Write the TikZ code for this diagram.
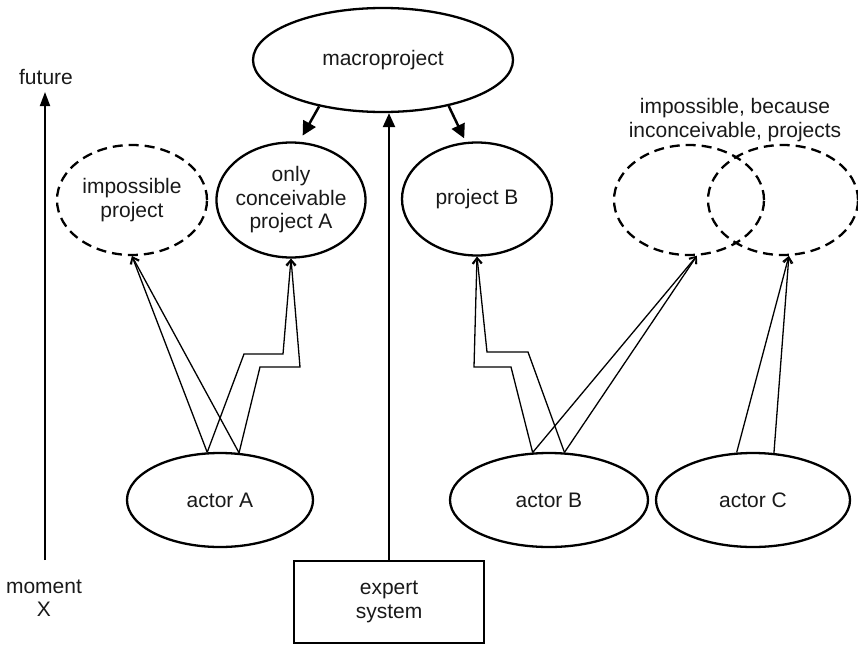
\documentclass[tikz,border=0pt]{standalone}
\usepackage{fontspec}
\setmainfont{Liberation Sans}
\usetikzlibrary{arrows.meta,shapes.geometric,calc}
\begin{document}
\begin{tikzpicture}[x=1pt,y=-1pt,
  every node/.style={font=\fontsize{21}{23.5}\selectfont, align=center, inner sep=0pt, text=black!90},
  ell/.style={ellipse, draw, line width=2.3pt, inner sep=-4pt},
  dell/.style={ell, dash pattern=on 10pt off 6pt},
  boxnode/.style={rectangle, draw, line width=2.3pt},
  thin/.style={line width=1.3pt, -{Straight Barb[length=6pt,width=9pt]}, line join=miter},
  bigarrow/.style={line width=2.5pt, -{Triangle[length=14pt,width=14pt]}},
  uparrow/.style={line width=2.2pt, -{Triangle[length=14pt,width=12pt]}},
  timearrow/.style={line width=1.8pt, -{Triangle[length=14pt,width=10pt]}}
]
\useasboundingbox (0,0) rectangle (858,645);

% nodes
\node[ell, minimum width=260pt, minimum height=104pt] (macro) at (383,60) {macroproject};
\node[dell, minimum width=150pt, minimum height=110pt] (imp) at (132,200) {impossible\\project};
\node[ell, minimum width=149pt, minimum height=115pt] (onlyA) at (291,200) {only\\conceivable\\project A};
\node[ell, minimum width=150pt, minimum height=113pt] (prB) at (477,199) {project B};
\node[dell, minimum width=150pt, minimum height=110pt] (dsh1) at (689,200) {};
\node[dell, minimum width=150pt, minimum height=110pt] (dsh2) at (783,200) {};
\node (inc) at (735,120) {impossible, because\\inconceivable, projects};

\node[ell, minimum width=186pt, minimum height=94pt] (actA) at (220,500) {actor A};
\node[ell, minimum width=198pt, minimum height=94pt] (actB) at (549,500) {actor B};
\node[ell, minimum width=194pt, minimum height=94pt] (actC) at (753,500) {actor C};

\node[boxnode, minimum width=190pt, minimum height=82pt] (expert) at (389,602) {expert\\system};

\node (future) at (46,77) {future};
\node (moment) at (44,598) {moment\\X};
\coordinate (tbot) at (45,560);
\coordinate (ttop) at (45,92);

% time axis
\draw[timearrow] (tbot) -- (ttop);

% macroproject arrows
\draw[bigarrow, shorten >=7pt] (macro.216) -- (onlyA.82);
\draw[bigarrow, shorten >=4pt] (macro.-35) -- (prB.101);
\draw[uparrow] (expert.north) -- (expert.north |- macro.south);

% bend points
\coordinate (a1) at (244,354);
\coordinate (a2) at (283,354);
\coordinate (a3) at (260,367);
\coordinate (a4) at (300,367);
\coordinate (b1) at (511,367);
\coordinate (b2) at (474,367);
\coordinate (b3) at (528,352);
\coordinate (b4) at (487,352);

% actor A
\draw[thin] (actA.105) -- (imp.south);
\draw[thin] (actA.68) -- (imp.south);
\draw[thin] (actA.105) -- (a1) -- (a2) -- (onlyA.south);
\draw[thin] (actA.68) -- (a3) -- (a4) -- (onlyA.south);

% actor B
\draw[thin] (actB.109) -- (b1) -- (b2) -- (prB.south);
\draw[thin] (actB.72) -- (b3) -- (b4) -- (prB.south);
\draw[thin] (actB.109) -- (dsh1.-82);
\draw[thin] (actB.72) -- (dsh1.-82);

% actor C
\draw[thin] (actC.109) -- (dsh2.-84);
\draw[thin] (actC.66) -- (dsh2.-84);
\end{tikzpicture}
\end{document}
